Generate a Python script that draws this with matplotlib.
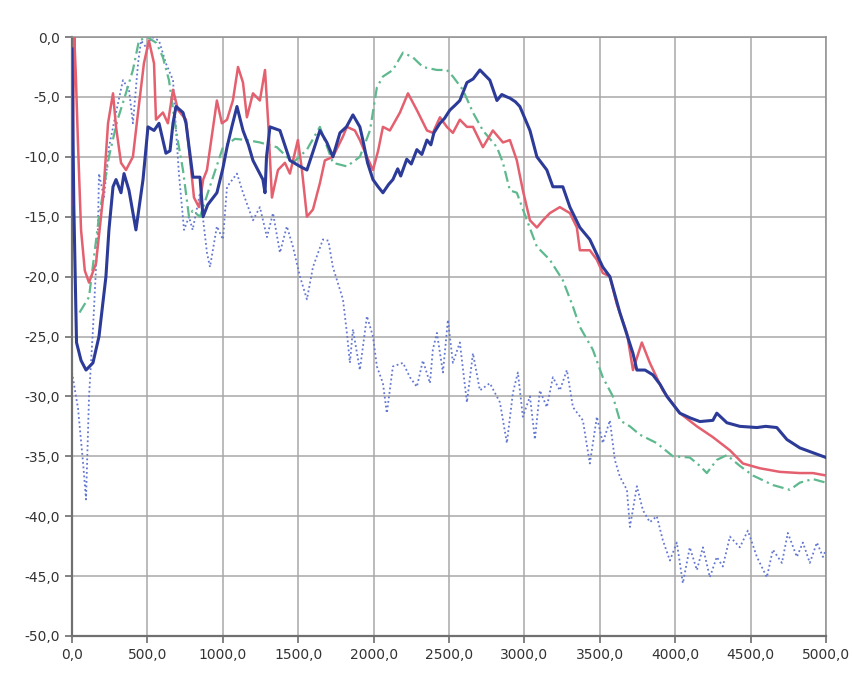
import numpy as np
import matplotlib
matplotlib.use("Agg")
import matplotlib.pyplot as plt
from matplotlib.ticker import FuncFormatter

# dark blue, solid
blue_x = [0, 12, 30, 60, 93, 139, 179, 225, 245, 272, 292, 325, 345, 378, 424, 471, 504, 544,
          577, 623, 650, 670, 690, 736, 756, 802, 849, 869, 900, 961, 1000, 1028, 1060, 1094,
          1134, 1170, 1200, 1266, 1280, 1290, 1313, 1379, 1445, 1512, 1558, 1600, 1644, 1690,
          1730, 1777, 1820, 1863, 1909, 1929, 1960, 1996, 2030, 2062, 2100, 2128, 2160, 2180,
          2220, 2250, 2287, 2320, 2354, 2380, 2400, 2440, 2470, 2506, 2540, 2572, 2619, 2660,
          2705, 2740, 2771, 2818, 2850, 2884, 2904, 2940, 2970, 3037, 3083, 3149, 3189, 3255,
          3302, 3368, 3434, 3520, 3567, 3633, 3720, 3746, 3800, 3852, 3900, 3945, 4031, 4100,
          4164, 4250, 4276, 4343, 4429, 4542, 4600, 4674, 4741, 4827, 4913, 5000]
blue_y = [-1, -14, -25.5, -27, -27.8, -27.2, -25, -20, -16.1, -12.5, -11.9, -13, -11.4, -12.8,
          -16.1, -11.9, -7.5, -7.8, -7.2, -9.7, -9.5, -7.2, -5.8, -6.3, -7.2, -11.7, -11.7, -15,
          -14, -13, -11, -9.2, -7.5, -5.8, -7.8, -9, -10.3, -11.9, -13, -10, -7.5, -7.8, -10.3,
          -10.8, -11.1, -9.5, -7.8, -8.8, -10, -8, -7.5, -6.5, -7.5, -8.6, -10.5, -11.9, -12.5,
          -13, -12.3, -11.9, -11, -11.6, -10.2, -10.6, -9.4, -9.8, -8.6, -9.0, -8, -7.2, -6.8,
          -6.1, -5.7, -5.3, -3.8, -3.5, -2.75, -3.2, -3.6, -5.3, -4.8, -5, -5.1, -5.4, -5.8,
          -7.8, -10, -11.1, -12.5, -12.5, -14.2, -15.9, -16.9, -19.2, -20, -23, -26.4, -27.8,
          -27.8, -28.2, -29, -30, -31.4, -31.8, -32.1, -32, -31.4, -32.2, -32.5, -32.6, -32.5,
          -32.6, -33.6, -34.3, -34.7, -35.1]

# red, solid
red_x = [0, 15, 25, 40, 60, 85, 113, 159, 206, 239, 272, 292, 325, 358, 404, 438, 477, 510,
         544, 557, 603, 636, 670, 703, 756, 809, 842, 870, 895, 961, 994, 1028, 1067, 1101,
         1134, 1160, 1200, 1246, 1280, 1300, 1326, 1366, 1412, 1445, 1498, 1525, 1558, 1598,
         1644, 1677, 1730, 1797, 1823, 1876, 1909, 1956, 1996, 2030, 2062, 2108, 2175, 2228,
         2287, 2354, 2393, 2440, 2486, 2526, 2572, 2619, 2659, 2725, 2791, 2858, 2904, 2950,
         2990, 3037, 3083, 3123, 3169, 3235, 3302, 3348, 3368, 3434, 3481, 3520, 3567, 3613,
         3680, 3720, 3779, 3832, 3918, 4031, 4144, 4250, 4363, 4449, 4562, 4694, 4827, 4913, 5000]
red_y = [-14, 0, -3, -9, -16.1, -19.5, -20.5, -18.9, -13.4, -7.2, -4.7, -7.5, -10.5, -11.1, -10,
         -6.3, -2.2, -0.3, -2.2, -6.9, -6.3, -7.2, -4.4, -6.1, -6.9, -13.4, -14.2, -11.9, -11.1,
         -5.3, -7.2, -6.9, -5.3, -2.5, -3.8, -6.7, -4.7, -5.3, -2.75, -6.9, -13.4, -11.1, -10.5,
         -11.4, -8.6, -11.1, -15, -14.4, -12.2, -10.3, -10, -8.3, -7.5, -7.8, -8.6, -10, -11.1,
         -9.5, -7.5, -7.8, -6.3, -4.7, -6.1, -7.8, -8, -6.7, -7.5, -8, -6.9, -7.5, -7.5, -9.2,
         -7.8, -8.8, -8.6, -10.3, -12.8, -15.3, -15.9, -15.3, -14.7, -14.2, -14.7, -15.9, -17.8,
         -17.8, -18.6, -19.7, -20, -22.3, -24.7, -27.8, -25.5, -27.2, -29.5, -31.4, -32.5, -33.4,
         -34.5, -35.6, -36, -36.3, -36.4, -36.4, -36.6]

# green, dash-dot
green_x = [50, 113, 179, 245, 300, 350, 404, 444, 500, 560, 603, 643, 690, 736, 776, 800, 849,
           935, 1001, 1080, 1160, 1246, 1359, 1465, 1558, 1644, 1730, 1823, 1909, 1976, 2022,
           2062, 2128, 2195, 2261, 2327, 2420, 2486, 2526, 2592, 2659, 2725, 2818, 2858, 2904,
           2950, 3017, 3083, 3169, 3255, 3322, 3368, 3454, 3520, 3587, 3633, 3700, 3766, 3878,
           3985, 4097, 4164, 4210, 4276, 4343, 4429, 4515, 4648, 4761, 4827, 4913, 5000]
green_y = [-23, -21.7, -15, -10, -7, -5, -2.75, -0.3, 0, -0.5, -1.7, -3.6, -7.8, -11.1, -15,
           -14.5, -15, -11.7, -9.2, -8.5, -8.6, -8.8, -9.2, -10.5, -9.4, -7.5, -10.5, -10.8, -10,
           -7.8, -4.2, -3.3, -2.75, -1.3, -1.7, -2.5, -2.75, -2.75, -3.3, -4.4, -6.3, -7.8, -9.2,
           -10.5, -12.8, -13, -15.3, -17.5, -18.6, -20.3, -22.5, -24.2, -26.1, -28.4, -30, -32,
           -32.5, -33.2, -33.9, -35, -35.1, -35.8, -36.4, -35.3, -34.9, -35.8, -36.6, -37.4,
           -37.8, -37.2, -36.9, -37.2]

# light blue, dotted
dot_x = [0, 40, 73, 93, 113, 139, 172, 179, 212, 245, 292, 338, 378, 404, 438, 458, 500, 530,
         577, 623, 670, 690, 709, 743, 776, 800, 849, 895, 915, 961, 1001, 1028, 1094, 1134,
         1200, 1246, 1293, 1333, 1379, 1425, 1465, 1512, 1558, 1598, 1664, 1700, 1730, 1797,
         1823, 1843, 1863, 1909, 1956, 1996, 2022, 2062, 2088, 2128, 2195, 2241, 2287, 2327,
         2374, 2393, 2420, 2460, 2493, 2526, 2572, 2619, 2659, 2705, 2771, 2838, 2884, 2924,
         2957, 2990, 3037, 3070, 3103, 3149, 3189, 3235, 3282, 3322, 3388, 3434, 3481, 3520,
         3567, 3600, 3633, 3680, 3700, 3746, 3786, 3832, 3878, 3918, 3965, 4011, 4051, 4097,
         4144, 4184, 4230, 4276, 4316, 4363, 4429, 4482, 4542, 4608, 4648, 4708, 4747, 4807,
         4847, 4893, 4940, 4980, 5000]
dot_y = [-28, -31, -35.5, -38.6, -30, -24.4, -16.1, -11.4, -13.4, -9.2, -6.3, -3.6, -4.4, -7.2,
         -2.2, -0.3, -1, 0, -0.3, -2.2, -3.6, -7.8, -11.4, -16.1, -15, -16.1, -13, -18, -19.2,
         -15.8, -16.9, -12.5, -11.4, -13, -15.3, -14.2, -16.7, -14.7, -18, -15.8, -17.5, -20,
         -21.9, -19.2, -16.9, -17, -19.2, -21.9, -24.7, -27.2, -24.4, -27.8, -23.3, -25, -27.5,
         -28.9, -31.4, -27.5, -27.2, -28.4, -29.2, -27, -28.9, -26.1, -24.7, -28, -23.6, -27.2,
         -25.5, -30.5, -26.4, -29.5, -28.9, -30.5, -33.9, -29.7, -28, -31.7, -30, -33.6, -29.5,
         -30.9, -28.4, -29.5, -27.8, -30.9, -32, -35.6, -31.7, -33.9, -32, -35.3, -36.7, -37.8,
         -40.9, -37.5, -39.5, -40.5, -40, -42, -43.7, -42.2, -45.6, -42.6, -44.5, -42.6, -45.1,
         -43.4, -44.2, -41.7, -42.6, -41.2, -43.4, -45.1, -42.8, -43.9, -41.4, -43.4, -42.2,
         -43.9, -42.2, -43.4, -42.8]

x_ticks = np.arange(0, 5001, 500)
y_ticks = np.arange(-50, 1, 5)

fig = plt.figure(figsize=(8.53, 6.77), dpi=100)
ax = fig.add_axes([0.0844, 0.0606, 0.8839, 0.8847])

ax.plot(dot_x, dot_y, color="#6478d2", lw=1.3, ls=(0, (1, 1.5)), zorder=2)
ax.plot(green_x, green_y, color="#5fb98e", lw=1.6, ls=(0, (5, 2, 1, 2)), zorder=3)
ax.plot(red_x, red_y, color="#e4606f", lw=1.8, zorder=4)
ax.plot(blue_x, blue_y, color="#2c3b98", lw=2.2, zorder=5)

ax.set_xlim(0, 5000)
ax.set_ylim(-50, 0)
ax.set_xticks(x_ticks)
ax.set_yticks(y_ticks)
fmt = FuncFormatter(lambda v, p: f"{v:.1f}".replace(".", ","))
ax.xaxis.set_major_formatter(fmt)
ax.yaxis.set_major_formatter(fmt)

ax.grid(True, color="#a8a8a8", lw=1.1)
ax.set_axisbelow(True)
for side in ["top", "right"]:
    ax.spines[side].set_color("#909090")
    ax.spines[side].set_linewidth(1.1)
for side in ["left", "bottom"]:
    ax.spines[side].set_color("#707070")
    ax.spines[side].set_linewidth(1.6)

ax.tick_params(axis="both", colors="#606060", labelcolor="#333333", labelsize=10,
               length=5, width=1.1, direction="out")

fig.savefig("out.png", dpi=100)
